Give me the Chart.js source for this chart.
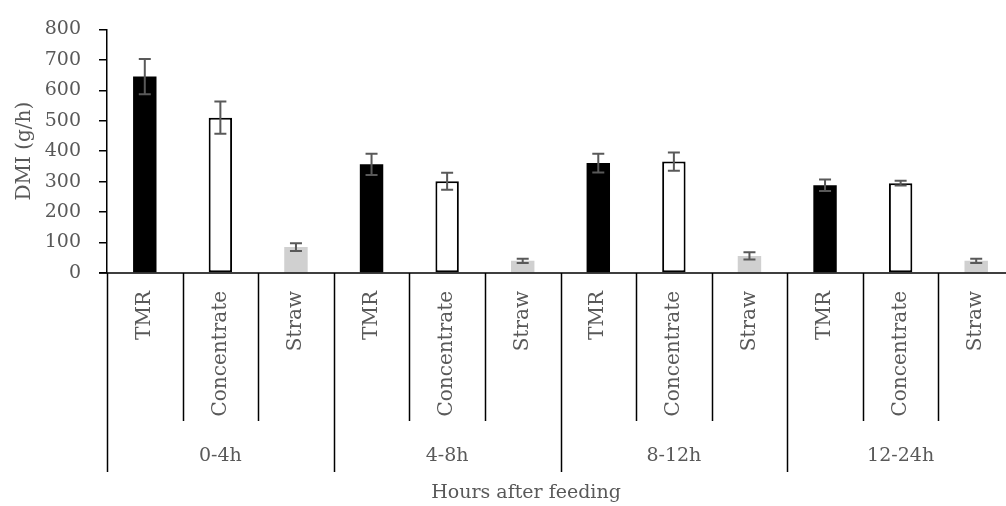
<!DOCTYPE html>
<html lang="en">
<head>
    <meta charset="UTF-8">
    <title>DMI by hours after feeding</title>
    <script src="https://cdn.jsdelivr.net/npm/chart.js"></script>
    <style>
        html, body { margin: 0; padding: 0; overflow: hidden; background: #fff; }
        #wrap { width: 1016px; height: 506px; }
    </style>
</head>
<body>
    <div id="wrap"><canvas id="dmiChart"></canvas></div>
    <script>
        // data
        const periods = ['0-4h', '4-8h', '8-12h', '12-24h'];
        const feeds = ['TMR', 'Concentrate', 'Straw'];
        const tmrMeans = [645, 357, 361, 288];
        const concMeans = [510, 301, 366, 295];
        const strawMeans = [85, 40, 56, 40];
        const tmrErr = [58, 35, 31, 19];
        const concErr = [53, 28, 30, 8];
        const strawErr = [13, 7, 12, 7];
        const yTicks = [0, 100, 200, 300, 400, 500, 600, 700, 800];

        const textColor = '#595959';
        const fontFamily = '"DejaVu Serif", serif';

        // flatten period x feed into 12 bars
        const labels = [], values = [], errors = [];
        periods.forEach((p, i) => {
            labels.push(feeds[0], feeds[1], feeds[2]);
            values.push(tmrMeans[i], concMeans[i], strawMeans[i]);
            errors.push(tmrErr[i], concErr[i], strawErr[i]);
        });

        const fills = ['#000000', '#ffffff', '#d0d0d0'];
        const borders = [0, 2, 0];

        const axisPlugin = {
            id: 'multiAxis',
            afterDatasetsDraw(chart) {
                const ctx = chart.ctx;
                const y = chart.scales.y;
                const meta = chart.getDatasetMeta(0);
                ctx.save();
                ctx.strokeStyle = '#595959';
                ctx.lineWidth = 2;
                meta.data.forEach((bar, i) => {
                    const top = y.getPixelForValue(values[i] + errors[i]);
                    const bot = y.getPixelForValue(values[i] - errors[i]);
                    ctx.beginPath();
                    ctx.moveTo(bar.x, top); ctx.lineTo(bar.x, bot);
                    ctx.moveTo(bar.x - 6, top); ctx.lineTo(bar.x + 6, top);
                    ctx.moveTo(bar.x - 6, bot); ctx.lineTo(bar.x + 6, bot);
                    ctx.stroke();
                });
                ctx.restore();
            },
            afterDraw(chart) {
                const ctx = chart.ctx;
                const area = chart.chartArea;
                const x = chart.scales.x;
                const base = area.bottom;
                const w = (area.right - area.left) / labels.length;
                ctx.save();
                // category axis line + separators
                ctx.strokeStyle = '#000';
                ctx.lineWidth = 1.5;
                ctx.beginPath();
                ctx.moveTo(area.left - 8, base); ctx.lineTo(area.right, base);
                for (let i = 0; i <= labels.length; i++) {
                    const px = Math.round(area.left + i * w) + 0.5;
                    ctx.moveTo(px, base);
                    ctx.lineTo(px, i % 3 === 0 ? base + 199 : base + 148);
                }
                ctx.stroke();

                ctx.fillStyle = textColor;
                ctx.font = '20px ' + fontFamily;
                labels.forEach((lab, i) => {
                    ctx.save();
                    ctx.translate(x.getPixelForValue(i), base + 18);
                    ctx.rotate(-Math.PI / 2);
                    ctx.textAlign = 'right';
                    ctx.textBaseline = 'middle';
                    ctx.fillText(lab, 0, 0);
                    ctx.restore();
                });
                ctx.font = '19px ' + fontFamily;
                ctx.textAlign = 'center';
                ctx.textBaseline = 'middle';
                periods.forEach((p, i) => {
                    const cx = (x.getPixelForValue(i * 3) + x.getPixelForValue(i * 3 + 2)) / 2;
                    ctx.fillText(p, cx, base + 183);
                });
                ctx.fillText('Hours after feeding', 526, base + 220);

                ctx.font = '20px ' + fontFamily;
                ctx.save();
                ctx.translate(25, (area.top + area.bottom) / 2);
                ctx.rotate(-Math.PI / 2);
                ctx.fillText('DMI (g/h)', 0, 0);
                ctx.restore();
                ctx.restore();
            }
        };

        new Chart(document.getElementById('dmiChart'), {
            type: 'bar',
            data: {
                labels: labels,
                datasets: [{
                    data: values,
                    backgroundColor: ctx => fills[ctx.dataIndex % 3],
                    borderColor: '#000',
                    borderWidth: ctx => borders[ctx.dataIndex % 3],
                    borderSkipped: false,
                    categoryPercentage: 1,
                    barPercentage: 0.31
                }]
            },
            options: {
                responsive: true,
                maintainAspectRatio: false,
                animation: false,
                layout: { padding: { top: 25, right: 2, bottom: 233, left: 0 } },
                plugins: { legend: { display: false }, tooltip: { enabled: false } },
                scales: {
                    x: { display: false },
                    y: {
                        min: 0, max: 800,
                        afterFit: s => { s.width = 107; },
                        afterBuildTicks: s => { s.ticks = yTicks.map(v => ({ value: v })); },
                        border: { color: '#000', width: 1.5 },
                        grid: { drawOnChartArea: false, drawTicks: true, tickLength: 8, color: '#000', lineWidth: 1.5 },
                        ticks: { color: textColor, font: { family: fontFamily, size: 19 }, padding: 18 }
                    }
                }
            },
            plugins: [axisPlugin]
        });
    </script>
</body>
</html>
